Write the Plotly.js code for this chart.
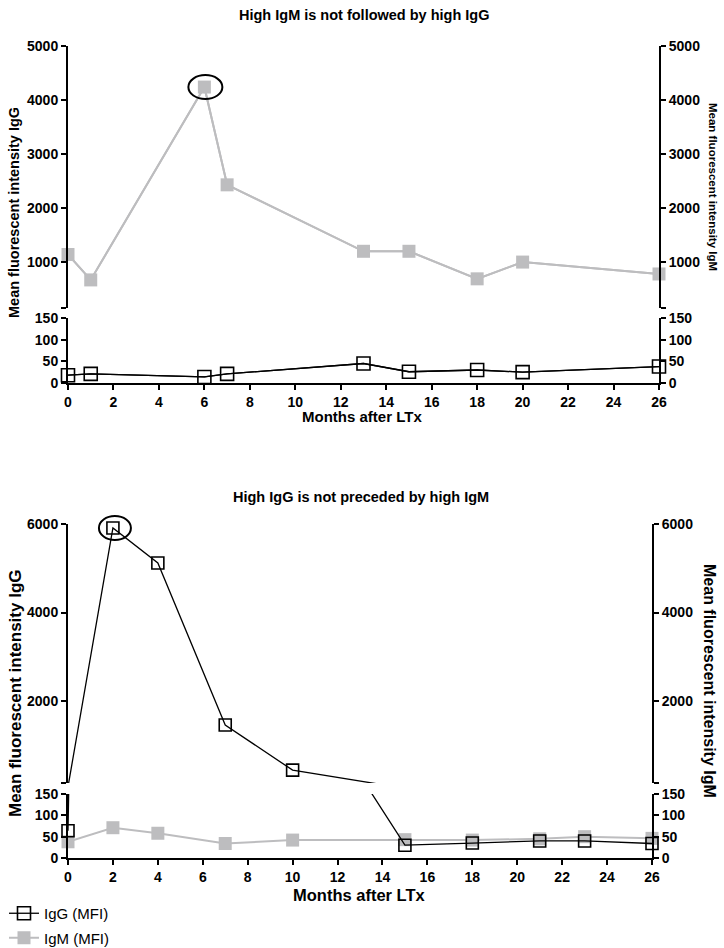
<!DOCTYPE html>
<html><head><meta charset="utf-8">
<script src="https://cdn.plot.ly/plotly-3.0.1.min.js"></script>
<style>html,body{margin:0;padding:0;background:#fff}</style>
</head><body><div id="chart" style="width:724px;height:948px"></div>
<script>
// ---- data ----
const monthsA = [0, 1, 6, 7, 13, 15, 18, 20, 26];
const iggA = [18, 21, 14, 21, 45, 26, 30, 25, 38];
const igmA = [1140, 670, 4240, 2430, 1200, 1200, 690, 1000, 780];

const monthsB = [0, 2, 4, 7, 10, 15, 18, 21, 23, 26];
const iggB = [64, 5910, 5120, 1460, 440, 30, 35, 40, 40, 34];
const igmB = [38, 71, 58, 34, 42, 43, 42, 45, 50, 46];

const xTicks = [0, 2, 4, 6, 8, 10, 12, 14, 16, 18, 20, 22, 24, 26];
const lowTicks = [0, 50, 100, 150];
const upTicksA = [1000, 2000, 3000, 4000, 5000];
const upTicksB = [2000, 4000, 6000];
const breakVal = 150;
const topA = 5000, topB = 6000;

const titleA = 'High IgM is not followed by high IgG';
const titleB = 'High IgG is not preceded by high IgM';
const xTitle = 'Months after LTx';
const yTitleG = 'Mean fluorescent intensity IgG';
const yTitleM = 'Mean fluorescent intensity IgM';
const nameG = 'IgG (MFI)';
const nameM = 'IgM (MFI)';

// ---- style ----
const FONT = 'Liberation Sans, Arial, sans-serif';
const GREY = '#bdbdbf';
const W = 724, H = 948;
const px = v => v / W;
const py = v => 1 - v / H;

const igGStyle = (size) => ({
  line: {color: '#000', width: 1.3},
  marker: {symbol: 'square-open', size: size, color: '#000', line: {width: 1.6, color: '#000'}}
});
const igMStyle = (size) => ({
  line: {color: GREY, width: 2},
  marker: {symbol: 'square', size: size, color: GREY}
});

const traces = [];
// ---- top panel ----
traces.push(Object.assign({x: monthsA, y: iggA, xaxis: 'x', yaxis: 'y', mode: 'lines',
  name: nameG, legendgroup: 'g', showlegend: false}, igGStyle(13)));
traces.push(Object.assign({x: monthsA, y: igmA, xaxis: 'x', yaxis: 'y2', mode: 'lines',
  name: nameM, legendgroup: 'm', showlegend: false}, igMStyle(13)));
traces.push(Object.assign({x: monthsA, y: iggA, xaxis: 'x', yaxis: 'y3', mode: 'lines+markers',
  cliponaxis: false, name: nameG, legendgroup: 'g', showlegend: true}, igGStyle(13)));
traces.push(Object.assign({x: monthsA, y: igmA, xaxis: 'x', yaxis: 'y4', mode: 'lines+markers',
  cliponaxis: false, name: nameM, legendgroup: 'm', showlegend: true}, igMStyle(13)));

// ---- bottom panel ----
traces.push(Object.assign({x: monthsB, y: igmB, xaxis: 'x2', yaxis: 'y5', mode: 'lines+markers',
  cliponaxis: false, name: nameM, legendgroup: 'm', showlegend: false}, igMStyle(13)));
['y5', 'y6'].forEach(ax => {
  traces.push(Object.assign({x: monthsB, y: iggB, xaxis: 'x2', yaxis: ax, mode: 'lines',
    name: nameG, legendgroup: 'g', showlegend: false}, igGStyle(12)));
});
const lowIdx = iggB.map((v, i) => v <= breakVal ? i : -1).filter(i => i >= 0);
const upIdx = iggB.map((v, i) => v > breakVal ? i : -1).filter(i => i >= 0);
[[lowIdx, 'y7'], [upIdx, 'y8']].forEach(([idx, ax]) => {
  traces.push(Object.assign({x: idx.map(i => monthsB[i]), y: idx.map(i => iggB[i]),
    xaxis: 'x2', yaxis: ax, mode: 'markers', cliponaxis: false,
    name: nameG, legendgroup: 'g', showlegend: false}, igGStyle(12)));
});

const TF = 14;
function axisBase(fs) {
  return {showgrid: false, zeroline: false, showline: true, linecolor: '#000', linewidth: 2,
    ticks: 'outside', tickcolor: '#000', tickwidth: 2, ticklen: 5, fixedrange: true,
    tickfont: {family: FONT, size: fs, color: '#000', weight: 700}};
}
function yAx(dom, range, ticks, extra) {
  const vals = ticks.indexOf(range[0]) < 0 ? [range[0]].concat(ticks) : ticks;
  return Object.assign(axisBase(TF), {domain: dom, range: range, tickmode: 'array',
    tickvals: vals, ticktext: vals.map(v => ticks.indexOf(v) < 0 ? '' : String(v))}, extra);
}

const domTopUp = [py(308), py(46)], domTopLow = [py(383), py(318)];
const domBotUp = [py(783), py(524)], domBotLow = [py(858), py(794)];

const layout = {
  width: W, height: H,
  margin: {l: 0, r: 0, t: 0, b: 0, autoexpand: false},
  paper_bgcolor: '#fff', plot_bgcolor: 'rgba(0,0,0,0)',
  font: {family: FONT, color: '#000'},
  showlegend: true,
  legend: {x: px(4), xanchor: 'left', y: -6 / H, yanchor: 'bottom', traceorder: 'grouped',
    tracegroupgap: 2, font: {family: FONT, size: 15, color: '#000'}, bgcolor: 'rgba(0,0,0,0)'},
  xaxis: Object.assign(axisBase(TF), {domain: [px(68), px(659)], range: [0, 26], anchor: 'y',
    tickmode: 'array', tickvals: xTicks, ticktext: xTicks.map(String)}),
  yaxis: yAx(domTopLow, [0, breakVal], lowTicks, {anchor: 'x'}),
  yaxis2: yAx(domTopUp, [breakVal, topA], upTicksA, {anchor: 'x'}),
  yaxis3: yAx(domTopLow, [0, breakVal], lowTicks, {anchor: 'x', overlaying: 'y', side: 'right'}),
  yaxis4: yAx(domTopUp, [breakVal, topA], upTicksA, {anchor: 'x', overlaying: 'y2', side: 'right'}),
  xaxis2: Object.assign(axisBase(TF), {domain: [px(68), px(652)], range: [0, 26], anchor: 'y5',
    tickmode: 'array', tickvals: xTicks, ticktext: xTicks.map(String)}),
  yaxis5: yAx(domBotLow, [0, breakVal], lowTicks, {anchor: 'x2'}),
  yaxis6: yAx(domBotUp, [breakVal, topB], upTicksB, {anchor: 'x2'}),
  yaxis7: yAx(domBotLow, [0, breakVal], lowTicks, {anchor: 'x2', overlaying: 'y5', side: 'right'}),
  yaxis8: yAx(domBotUp, [breakVal, topB], upTicksB, {anchor: 'x2', overlaying: 'y6', side: 'right'}),
  annotations: [
    {text: titleA, x: px(364), y: py(15), font: {family: FONT, size: 14.5, weight: 700}},
    {text: titleB, x: px(361), y: py(497), font: {family: FONT, size: 14.5, weight: 700}},
    {text: xTitle, x: px(362), y: py(416), font: {family: FONT, size: 15, weight: 700}},
    {text: xTitle, x: px(359), y: py(895), font: {family: FONT, size: 16.5, weight: 700}},
    {text: yTitleG, x: px(14), y: py(213), textangle: -90, font: {family: FONT, size: 14.5, weight: 700}},
    {text: yTitleM, x: px(713), y: py(187), textangle: 90, font: {family: FONT, size: 11.5, weight: 700}},
    {text: yTitleG, x: px(15), y: py(693), textangle: -90, font: {family: FONT, size: 17, weight: 700}},
    {text: yTitleM, x: px(710), y: py(681), textangle: 90, font: {family: FONT, size: 16, weight: 700}}
  ].map(a => Object.assign({xref: 'paper', yref: 'paper', xanchor: 'center', yanchor: 'middle',
    showarrow: false}, a)),
  shapes: []
};

// ellipses around the peaks (anchored at the data maxima)
function peak(xs, ys) { let k = 0; ys.forEach((v, i) => { if (v > ys[k]) k = i; }); return [xs[k], ys[k]]; }
function toPaper(v, dom, range) { return dom[0] + (v - range[0]) / (range[1] - range[0]) * (dom[1] - dom[0]); }
const pA = peak(monthsA, igmA), pB = peak(monthsB, iggB);
layout.shapes.push({type: 'circle', xref: 'x', yref: 'paper', xsizemode: 'pixel', ysizemode: 'pixel',
  xanchor: pA[0], yanchor: toPaper(pA[1], domTopUp, [breakVal, topA]),
  x0: -16, x1: 18, y0: -12, y1: 12, line: {color: '#000', width: 2}});
layout.shapes.push({type: 'circle', xref: 'x2', yref: 'paper', xsizemode: 'pixel', ysizemode: 'pixel',
  xanchor: pB[0], yanchor: toPaper(pB[1], domBotUp, [breakVal, topB]),
  x0: -14, x1: 18, y0: -12, y1: 12, line: {color: '#000', width: 2}});

Plotly.newPlot('chart', traces, layout, {displayModeBar: false, staticPlot: true});
</script>
</body></html>
